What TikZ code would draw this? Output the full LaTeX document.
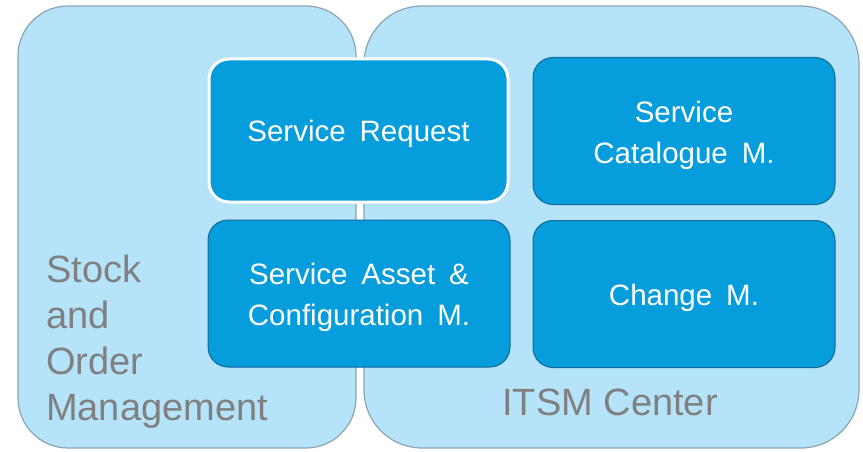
\documentclass[tikz,border=0pt]{standalone}
\usepackage{fontspec}
\setmainfont{Liberation Sans}
\newfontfamily\boxfont{Liberation Sans}[WordSpace=1.7]
\definecolor{contfill}{RGB}{180,227,250}
\definecolor{contdraw}{RGB}{140,165,180}
\definecolor{boxfill}{RGB}{5,157,219}
\definecolor{boxdraw}{RGB}{20,105,150}
\definecolor{graytext}{RGB}{128,128,128}
\newcommand{\lowered}[1]{\raisebox{-3.5pt}[\height][\depth]{#1}}
\newcommand{\twolines}[2]{\lowered{\begin{tabular}{@{}c@{}}#1\\#2\end{tabular}}}
\tikzset{
  container/.style={fill=contfill, draw=contdraw, line width=1.2pt},
  module/.style={fill=boxfill, draw=boxdraw, line width=1pt, rounded corners=20pt,
    minimum width=302pt, minimum height=147pt, inner sep=0pt, text=white,
    align=center, font=\boxfont\fontsize{29.5}{41}\selectfont},
  selected/.style={draw=white, line width=3pt},
  grouplabel/.style={text=graytext, inner sep=0pt, align=left,
    font=\fontsize{38}{46}\selectfont}
}
\begin{document}
\begin{tikzpicture}[x=1pt,y=-1pt]
\useasboundingbox (0,0) rectangle (863,452);
\fill[white] (0,0) rectangle (863,452);
% containers
\draw[container, rounded corners=50pt] (18,6) rectangle (356,448);
\draw[container, rounded corners=58pt] (364,6) rectangle (859,448);
% modules
\node[module, selected, minimum width=299pt, minimum height=143pt] (sr) at (358.5,130.5) {\lowered{Service Request}};
\node[module] (sc) at (684,131) {\twolines{Service}{Catalogue M.}};
\node[module] (sa) at (359,293.5) {\twolines{Service Asset \&}{Configuration M.}};
\node[module] (cm) at (684,294) {\lowered{Change M.}};
% labels
\node[grouplabel, anchor=base west] (som) at (46,420) {Stock\\and\\Order\\Management};
\node[grouplabel, anchor=base] (itsm) at (610,415) {ITSM Center};
\end{tikzpicture}
\end{document}
